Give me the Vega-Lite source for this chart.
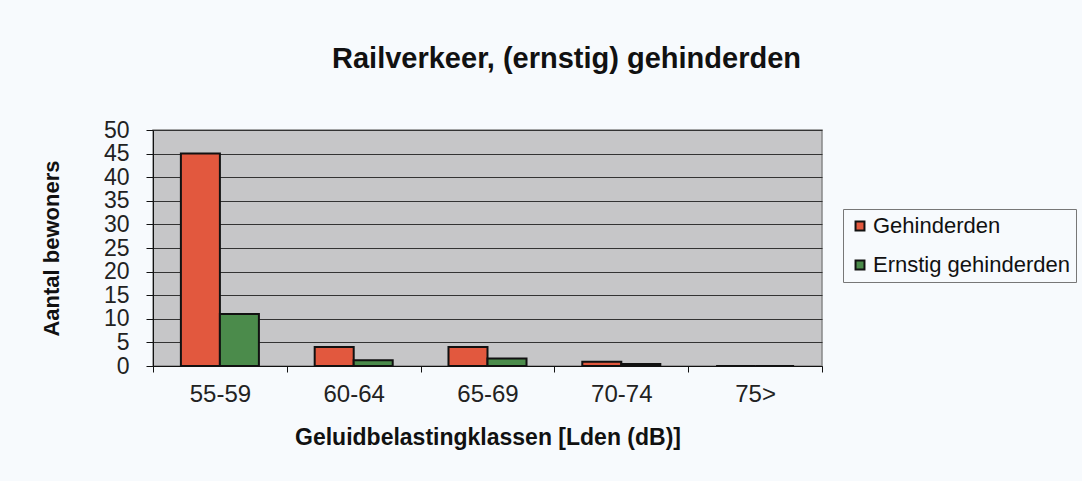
{
  "$schema": "https://vega.github.io/schema/vega-lite/v6.json",
  "autosize": "none",
  "width": 669,
  "height": 236,
  "padding": {"left": 153, "top": 130, "right": 260, "bottom": 115},
  "background": "#f7fafd",
  "title": {
    "text": "Railverkeer, (ernstig) gehinderden",
    "font": "Liberation Sans",
    "fontSize": 29,
    "fontWeight": "bold",
    "color": "#111",
    "anchor": "middle",
    "dx": 79,
    "offset": 45
  },
  "data": {
    "values": [
      {"klasse": "55-59", "serie": "Gehinderden", "aantal": 45},
      {"klasse": "55-59", "serie": "Ernstig gehinderden", "aantal": 11},
      {"klasse": "60-64", "serie": "Gehinderden", "aantal": 4},
      {"klasse": "60-64", "serie": "Ernstig gehinderden", "aantal": 1.2},
      {"klasse": "65-69", "serie": "Gehinderden", "aantal": 4},
      {"klasse": "65-69", "serie": "Ernstig gehinderden", "aantal": 1.6},
      {"klasse": "70-74", "serie": "Gehinderden", "aantal": 0.9},
      {"klasse": "70-74", "serie": "Ernstig gehinderden", "aantal": 0.4},
      {"klasse": "75>", "serie": "Gehinderden", "aantal": 0},
      {"klasse": "75>", "serie": "Ernstig gehinderden", "aantal": 0}
    ]
  },
  "mark": {"type": "bar", "stroke": "#111", "strokeWidth": 2},
  "encoding": {
    "x": {
      "field": "klasse",
      "type": "nominal",
      "sort": ["55-59", "60-64", "65-69", "70-74", "75>"],
      "scale": {"paddingInner": 0, "paddingOuter": 0},
      "title": "Geluidbelastingklassen [Lden (dB)]",
      "axis": {
        "labelAngle": 0,
        "tickBand": "extent",
        "domainColor": "#111",
        "tickColor": "#111",
        "tickSize": 6,
        "labelFont": "Liberation Sans",
        "labelFontSize": 24,
        "labelColor": "#222",
        "labelPadding": 10,
        "titleFont": "Liberation Sans",
        "titleFontSize": 23,
        "titleFontWeight": "bold",
        "titleColor": "#111",
        "titlePadding": 20,
        "grid": false
      }
    },
    "xOffset": {
      "field": "serie",
      "type": "nominal",
      "sort": ["Gehinderden", "Ernstig gehinderden"],
      "scale": {"paddingInner": 0, "paddingOuter": 0.715}
    },
    "y": {
      "field": "aantal",
      "type": "quantitative",
      "scale": {"domain": [0, 50], "nice": false},
      "title": "Aantal bewoners",
      "axis": {
        "values": [0, 5, 10, 15, 20, 25, 30, 35, 40, 45, 50],
        "domainColor": "#111",
        "tickColor": "#111",
        "tickSize": 7,
        "gridColor": "#333",
        "gridOpacity": 1,
        "gridWidth": 1,
        "labelFont": "Liberation Sans",
        "labelFontSize": 23,
        "labelColor": "#222",
        "labelPadding": 17,
        "titleFont": "Liberation Sans",
        "titleFontSize": 22,
        "titleFontWeight": "bold",
        "titleColor": "#111",
        "titlePadding": 40
      }
    },
    "color": {
      "field": "serie",
      "type": "nominal",
      "sort": ["Gehinderden", "Ernstig gehinderden"],
      "scale": {"domain": ["Gehinderden", "Ernstig gehinderden"], "range": ["#e2583e", "#4b8b4b"]},
      "legend": {
        "title": null,
        "orient": "none",
        "legendX": 690,
        "legendY": 79,
        "padding": 6,
        "strokeColor": "#777",
        "fillColor": "#f7fafd",
        "symbolType": "square",
        "symbolSize": 80,
        "symbolStrokeColor": "#111",
        "symbolStrokeWidth": 2,
        "labelFont": "Liberation Sans",
        "labelFontSize": 22,
        "labelColor": "#111",
        "labelOffset": 2,
        "rowPadding": 17,
        "labelLimit": 300
      }
    }
  },
  "config": {
    "view": {"fill": "#c6c6c8", "stroke": "#888", "strokeWidth": 1.5}
  }
}
